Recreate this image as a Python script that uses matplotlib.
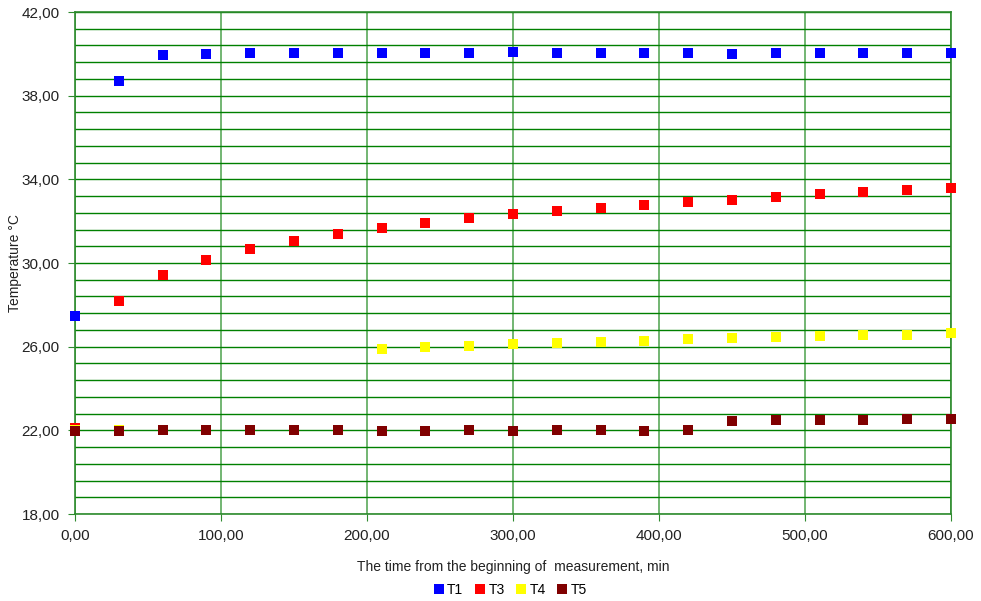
import matplotlib
matplotlib.use("Agg")
import matplotlib.pyplot as plt
from matplotlib.ticker import FixedLocator, MultipleLocator, FuncFormatter
import numpy as np

time_min = [0, 30, 60, 90, 120, 150, 180, 210, 240, 270, 300, 330, 360, 390, 420, 450, 480, 510, 540, 570, 600]
T1 = [27.47, 38.70, 39.94, 39.99, 40.04, 40.04, 40.02, 40.04, 40.04, 40.02, 40.09, 40.03, 40.04, 40.04, 40.02, 39.99, 40.04, 40.04, 40.04, 40.04, 40.04]
T3 = [22.10, 28.19, 29.43, 30.14, 30.67, 31.05, 31.39, 31.67, 31.91, 32.15, 32.34, 32.49, 32.63, 32.77, 32.92, 33.01, 33.16, 33.30, 33.40, 33.49, 33.59]
T4 = [22.00, 22.00, 22.02, 22.02, 22.02, 22.00, 22.02, 25.89, 25.99, 26.03, 26.13, 26.18, 26.23, 26.27, 26.37, 26.42, 26.47, 26.51, 26.56, 26.56, 26.66]
T5 = [21.97, 21.97, 22.00, 22.00, 22.00, 22.00, 22.00, 21.97, 21.97, 22.00, 21.97, 22.00, 22.00, 21.97, 22.00, 22.45, 22.48, 22.50, 22.51, 22.53, 22.55]
y_ticks = [18, 22, 26, 30, 34, 38, 42]

series = [("T1", T1, "#0000FF"), ("T3", T3, "#FF0000"), ("T4", T4, "#FFFF00"), ("T5", T5, "#800000")]

plt.rcParams['font.family'] = ['Liberation Sans', 'DejaVu Sans']

fig = plt.figure(figsize=(9.81, 6.01), dpi=100)
ax = fig.add_axes([75/981, 1-514/601, 876/981, 502/601])

ax.set_xlim(0, 600)
ax.set_ylim(18, 42)

ax.yaxis.set_major_locator(FixedLocator(y_ticks))
ax.yaxis.set_minor_locator(FixedLocator(list(np.arange(18, 42.01, 0.8))))
ax.xaxis.set_major_locator(MultipleLocator(100))
ax.yaxis.set_major_formatter(FuncFormatter(lambda v, p: f"{v:.2f}".replace(".", ",")))
ax.xaxis.set_major_formatter(FuncFormatter(lambda v, p: f"{v:.2f}".replace(".", ",")))

ax.grid(True, which='minor', axis='y', color='#008000', linewidth=1.0, zorder=1)
ax.grid(True, which='major', axis='y', color='#008000', linewidth=1.0, zorder=1)
ax.grid(True, which='major', axis='x', color='#5aa95a', linewidth=1.2, zorder=1)
ax.set_axisbelow(True)

for s in ax.spines.values():
    s.set_color('#2e8b2e')
    s.set_linewidth(1.2)

ax.tick_params(axis='both', which='major', direction='out', length=5, color='#2e8b2e',
               labelsize=11, labelcolor='#222222')
ax.tick_params(axis='y', which='minor', length=0)
ax.tick_params(axis='x', pad=6)
ax.tick_params(axis='y', pad=6)

for name, vals, col in series:
    ax.plot(time_min, vals, linestyle='none', marker='s', markersize=7, color=col,
            markeredgewidth=0, label=name, zorder=3, clip_on=False)

ax.set_xlabel("The time from the beginning of  measurement, min", fontsize=10, color='#222222', labelpad=12)
ax.set_ylabel("Temperature °C", fontsize=10, color='#222222')
ax.yaxis.set_label_coords(-53/876, 0.5)

fig.legend(loc='center', bbox_to_anchor=(0.52, 1-590/601), ncol=4, frameon=False, fontsize=10,
           handlelength=0.8, handletextpad=0.2, columnspacing=0.8, markerscale=1.0)

fig.savefig("out.png", dpi=100)
